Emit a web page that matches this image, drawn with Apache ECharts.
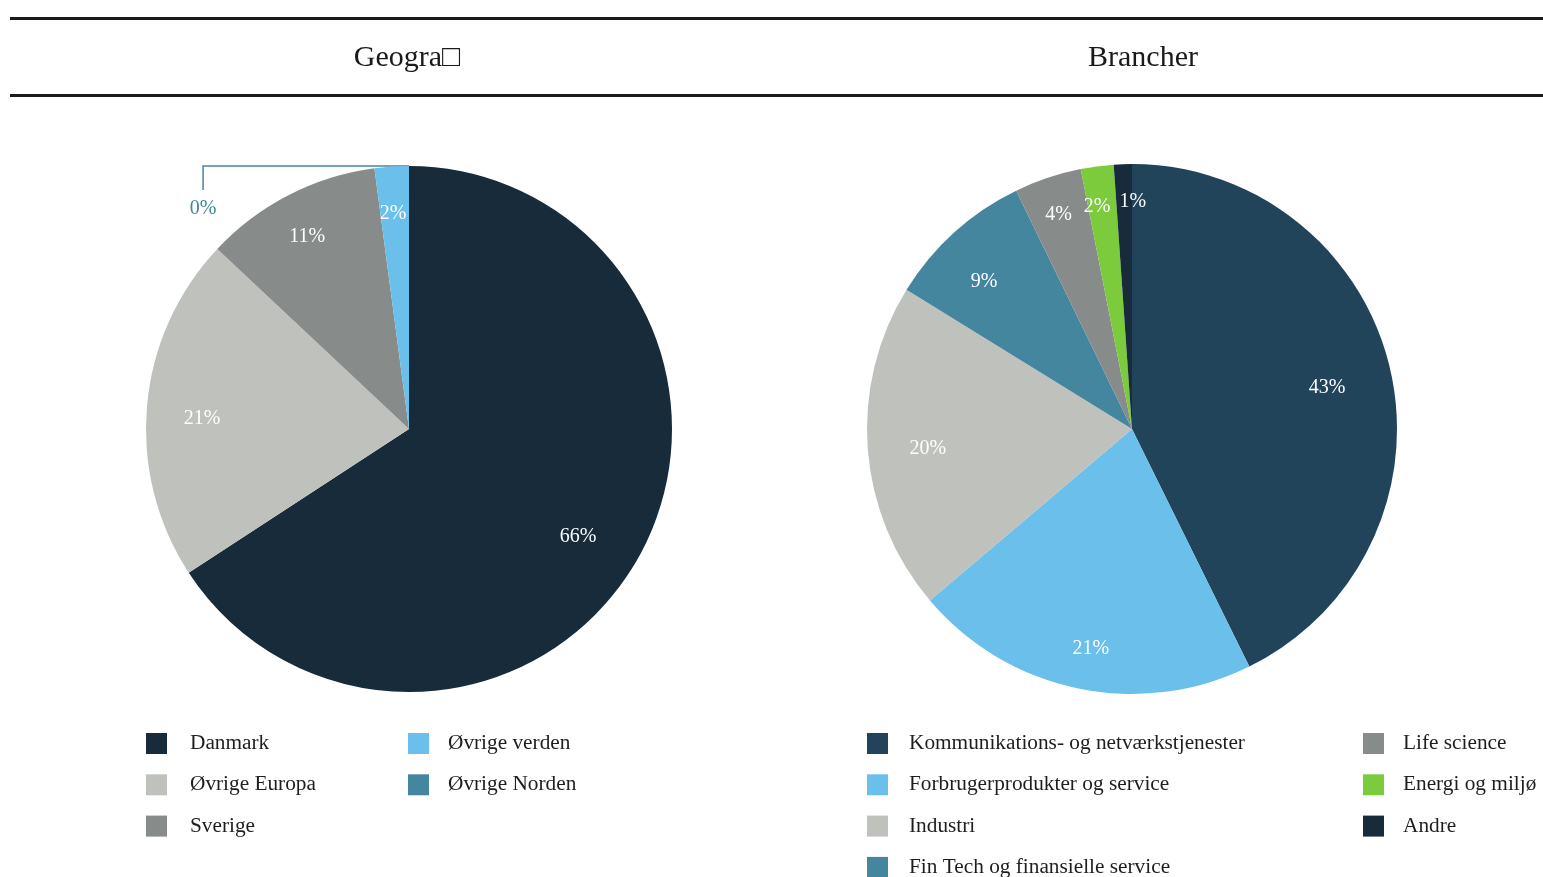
<!DOCTYPE html>
<html>
<head>
<meta charset="utf-8">
<script src="https://cdn.jsdelivr.net/npm/echarts@6/dist/echarts.min.js"></script>
<style>
html,body{margin:0;padding:0;background:#fff;}
#chart{width:1543px;height:877px;}
</style>
</head>
<body>
<div id="chart"></div>
<script>
// ---- data ----
const titles = ['Geogra\u25A1', 'Brancher'];
const geoNames = ['Danmark', 'Øvrige Europa', 'Sverige', 'Øvrige verden', 'Øvrige Norden'];
const geoValues = [65.8, 21.2, 10.9, 2.1, 0];
const geoColors = ['#172B3A', '#BFC2BC', '#878B8A', '#6BBFEB', '#45869F'];
const brNames = ['Kommunikations- og netværkstjenester', 'Forbrugerprodukter og service', 'Industri',
  'Fin Tech og finansielle service', 'Life science', 'Energi og miljø', 'Andre'];
const brValues = [42.7, 21.1, 20.0, 9.0, 4.1, 2.0, 1.1];
const brColors = ['#22445B', '#6BBFEB', '#BFC2BC', '#45869F', '#878B8A', '#7CCB3C', '#172B3A'];

// ---- layout / style ----
const FONT = "'Liberation Serif', 'Times New Roman', serif";
const geoC = [409, 429], geoR = 263;
const brC = [1132, 429], brR = 265;
// in-slice label placement: fraction of radius, and angular nudge (degrees) from slice middle
const geoLabelR = [0.759, 0.788, 0.833, 0.827, 0];
const geoLabelNudge = [3.7, -1.7, -0.5, -0.4, 0];
const brLabelR = [0.754, 0.837, 0.773, 0.792, 0.861, 0.855, 0.864];
const brLabelNudge = [0.7, -1.0, -0.7, -2.7, -0.2, -1.3, 2.2];

const chart = echarts.init(document.getElementById('chart'), null, {renderer: 'canvas'});

function mainSeries(names, values, colors, center, r, extra) {
  return Object.assign({
    type: 'pie',
    center: center,
    radius: [0, r],
    startAngle: 90,
    clockwise: true,
    avoidLabelOverlap: false,
    animation: false,
    label: {show: false},
    labelLine: {show: false},
    emphasis: {disabled: true},
    itemStyle: {borderWidth: 0},
    data: names.map((n, i) => ({name: n, value: values[i], itemStyle: {color: colors[i]}}))
  }, extra || {});
}

function labelSeries(names, values, center, r, factors, nudges) {
  const total = values.reduce((a, b) => a + b, 0);
  const mids = [];
  let acc = 0;
  values.forEach(v => { mids.push((acc + v / 2) / total * Math.PI * 2); acc += v; });
  return {
    type: 'pie',
    center: center,
    radius: [r * 0.6, r],
    startAngle: 90,
    clockwise: true,
    silent: true,
    avoidLabelOverlap: false,
    animation: false,
    emphasis: {disabled: true},
    itemStyle: {color: 'rgba(0,0,0,0)', borderWidth: 0},
    label: {
      show: true, position: 'inside', color: '#ffffff',
      fontFamily: FONT, fontSize: 20,
      formatter: p => Math.round(p.value) + '%'
    },
    labelLine: {show: false},
    labelLayout: function (params) {
      const i = params.dataIndex;
      const a = mids[i] + nudges[i] * Math.PI / 180, d = factors[i] * r;
      return {x: center[0] + Math.sin(a) * d, y: center[1] - Math.cos(a) * d + 1.5,
        align: 'center', verticalAlign: 'middle'};
    },
    data: names.map((n, i) => ({name: n, value: values[i], label: {show: values[i] > 0}}))
  };
}

const geoMain = mainSeries(geoNames, geoValues, geoColors, geoC, geoR, {
  labelLayout: function (params) {
    if (params.dataIndex !== 4) return {};
    const lx = geoC[0] - geoR * 0.783;
    const top = geoC[1] - geoR;
    return {
      x: lx, y: top + 43, align: 'center', verticalAlign: 'middle',
      labelLinePoints: [[geoC[0], top], [lx, top], [lx, top + 24]]
    };
  }
});
geoMain.data[4].label = {
  show: true, position: 'outside', color: '#45869F',
  fontFamily: FONT, fontSize: 20,
  formatter: p => Math.round(p.value) + '%'
};
geoMain.data[4].labelLine = {show: true, lineStyle: {color: '#45869F', width: 1.5}};

function legend(names, left, top, textGap) {
  return {
    orient: 'vertical', left: left, top: top, height: 170, padding: 0,
    itemWidth: 21, itemHeight: 21, itemGap: 20.3,
    icon: 'rect', selectedMode: false,
    textStyle: {fontFamily: FONT, fontSize: 21.3, color: '#1e1e1e', padding: [0, 0, 0, textGap]},
    data: names
  };
}

const option = {
  backgroundColor: '#ffffff',
  title: [
    {text: titles[0], left: 402, top: 38, textAlign: 'center',
      textStyle: {fontFamily: FONT, fontSize: 30, fontWeight: 'normal', color: '#1a1a1a'}},
    {text: titles[1], left: 1138, top: 38, textAlign: 'center',
      textStyle: {fontFamily: FONT, fontSize: 30, fontWeight: 'normal', color: '#1a1a1a'}}
  ],
  legend: [
    legend(geoNames.slice(0, 3), 146, 733, 18),
    legend(geoNames.slice(3), 408, 733, 14),
    legend(brNames.slice(0, 4), 867, 733, 16),
    legend(brNames.slice(4), 1363, 733, 14)
  ],
  graphic: [
    {type: 'rect', shape: {x: 10, y: 17, width: 1533, height: 3}, style: {fill: '#1a1a1a'}, silent: true},
    {type: 'rect', shape: {x: 10, y: 94, width: 1533, height: 3}, style: {fill: '#1a1a1a'}, silent: true}
  ],
  series: [
    geoMain,
    mainSeries(brNames, brValues, brColors, brC, brR),
    labelSeries(geoNames, geoValues, geoC, geoR, geoLabelR, geoLabelNudge),
    labelSeries(brNames, brValues, brC, brR, brLabelR, brLabelNudge)
  ]
};
chart.setOption(option);
</script>
</body>
</html>
